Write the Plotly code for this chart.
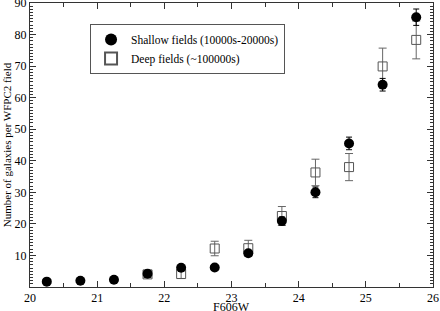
import plotly.graph_objects as go

# Data
mag_shallow = [20.25, 20.75, 21.25, 21.75, 22.25, 22.75, 23.25, 23.75, 24.25, 24.75, 25.25, 25.75]
n_shallow = [1.7, 2.0, 2.3, 4.2, 6.1, 6.2, 10.7, 20.9, 30.0, 45.5, 64.1, 85.5]
err_shallow = [0.3, 0.4, 0.5, 0.7, 0.9, 0.9, 0.9, 1.3, 1.7, 2.0, 2.0, 2.6]

mag_deep = [21.75, 22.25, 22.75, 23.25, 23.75, 24.25, 24.75, 25.25, 25.75]
n_deep = [4.0, 4.1, 12.2, 12.3, 22.5, 36.3, 38.0, 69.9, 78.3]
err_deep = [1.0, 1.4, 2.3, 2.5, 3.0, 4.2, 4.3, 5.8, 6.0]

x_ticks = [20, 21, 22, 23, 24, 25, 26]
y_ticks = [10, 20, 30, 40, 50, 60, 70, 80, 90]

x_title = "F606W"
y_title = "Number of galaxies per WFPC2 field"

FONT = "Liberation Serif, DejaVu Serif, serif"

fig = go.Figure()
fig.add_trace(go.Scatter(
    x=mag_deep, y=n_deep, mode="markers", name="Deep fields (~100000s)",
    marker=dict(symbol="square-open", size=9, color="#555555", line=dict(width=1)),
    error_y=dict(type="data", array=err_deep, visible=True, color="#666666", thickness=1, width=4),
))
fig.add_trace(go.Scatter(
    x=mag_shallow, y=n_shallow, mode="markers", name="Shallow fields (10000s-20000s)",
    marker=dict(symbol="circle", size=10, color="black"),
    error_y=dict(type="data", array=err_shallow, visible=True, color="black", thickness=1, width=3),
))

axis_common = dict(
    showline=True, linecolor="#333333", linewidth=1, mirror="ticks",
    ticks="inside", ticklen=6, tickcolor="#333333", showgrid=False, zeroline=False,
    tickfont=dict(family=FONT, size=12, color="black"),
    automargin=False, ticklabeloverflow="allow",
)

fig.update_xaxes(
    range=[20, 26], tickvals=x_ticks,
    minor=dict(ticks="inside", dtick=0.5, ticklen=4, tickcolor="#333333", showgrid=False),
    **axis_common,
)
fig.update_yaxes(
    range=[0, 90], tickvals=y_ticks,
    minor=dict(ticks="inside", dtick=1, ticklen=3, tickcolor="#333333", showgrid=False),
    title=dict(text=y_title, font=dict(family=FONT, size=11, color="black"), standoff=0),
    ticklabelstandoff=0,
    **axis_common,
)

fig.add_annotation(
    text=x_title, xref="paper", yref="paper", x=0.5, y=-0.07,
    xanchor="center", yanchor="middle", showarrow=False,
    font=dict(family=FONT, size=12, color="black"),
)

fig.update_layout(
    width=440, height=311,
    margin=dict(l=30, r=7, t=3, b=24),
    paper_bgcolor="white", plot_bgcolor="white",
    showlegend=True,
    legend=dict(
        x=0.149, y=0.926, xanchor="left", yanchor="top",
        bgcolor="white", bordercolor="#555555", borderwidth=1,
        font=dict(family=FONT, size=11.5, color="black"),
        traceorder="reversed", itemsizing="constant", itemwidth=30,
        tracegroupgap=0,
    ),
)

fig.write_html(
    "out.html",
    config={"displayModeBar": False},
    post_script="document.body.style.margin='0';document.body.style.overflow='hidden';",
)
